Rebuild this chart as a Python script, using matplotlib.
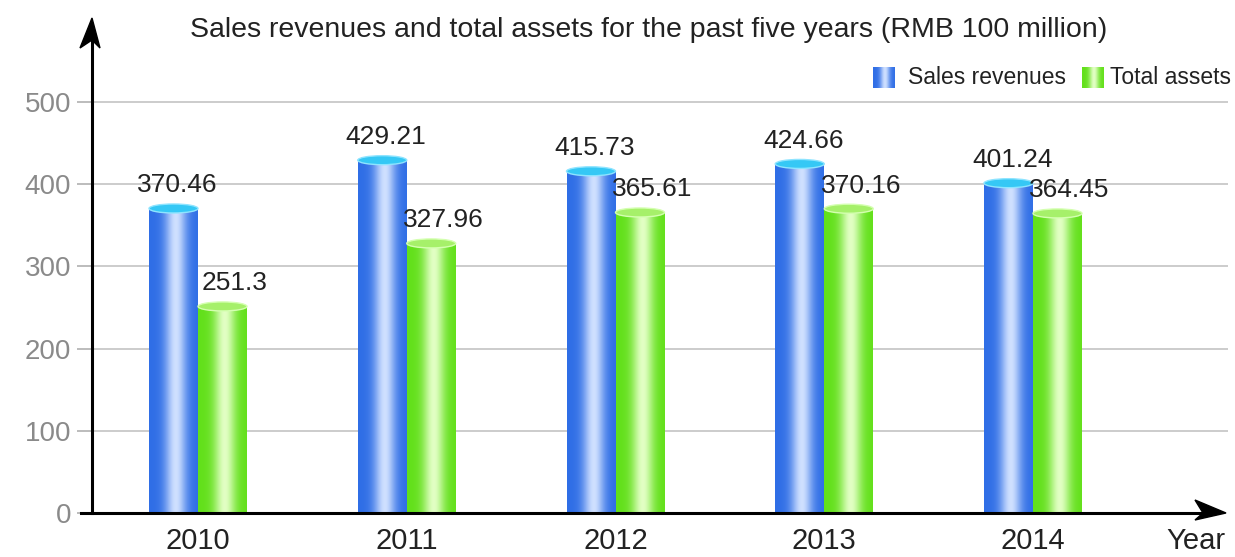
import numpy as np
import matplotlib
matplotlib.use("Agg")
import matplotlib.pyplot as plt
from matplotlib.patches import Rectangle, Ellipse, Polygon
from matplotlib.colors import to_rgb

plt.rcParams['font.family'] = ['Liberation Sans', 'DejaVu Sans']

years = ["2010", "2011", "2012", "2013", "2014"]
sales = [370.46, 429.21, 415.73, 424.66, 401.24]
assets = [251.3, 327.96, 365.61, 370.16, 364.45]
series_names = ["Sales revenues", "Total assets"]

W, H = 1235, 557
fig = plt.figure(figsize=(W / 100, H / 100), dpi=100)
# axes box in pixels: x 92..1228, y 18..513 (data 0 at 513)
ax = fig.add_axes([92 / W, (H - 513) / H, (1228 - 92) / W, (513 - 18) / H])
ymax = (513 - 18) / 0.822
ax.set_ylim(0, ymax)
step = 208.75
ax.set_xlim(-(198 - 92) / step, 4 + (1228 - 1033) / step)
for s in ax.spines.values():
    s.set_visible(False)

ax.set_yticks([0, 100, 200, 300, 400, 500])
ax.tick_params(axis='y', direction='out', length=11, width=1.2, color='#b0b0b0',
               labelcolor='#8a8a8a', labelsize=20, pad=4)
ax.set_xticks([])
for v in [100, 200, 300, 400, 500]:
    ax.axhline(v, color='#c8c8c8', lw=1.3, zorder=0)


def cylinder_colors(edge, light, n=64):
    t = np.linspace(0, 1, n)
    w = np.exp(-((t - 0.55) / 0.22) ** 2)
    e = np.array(to_rgb(edge))
    li = np.array(to_rgb(light))
    rgb = e[None, :] * (1 - w[:, None]) + li[None, :] * w[:, None]
    return rgb[None, :, :]


def draw_bar(x0, width, height, edge, light, cap, cap_edge):
    img = cylinder_colors(edge, light)
    im = ax.imshow(img, extent=(x0, x0 + width, 0, height), aspect='auto',
                   interpolation='bicubic', zorder=2)
    clip = Rectangle((x0, 0), width, height, transform=ax.transData)
    im.set_clip_path(clip)
    e_h = 9 * ymax / (513 - 18)
    ax.add_patch(Ellipse((x0 + width / 2, height), width, e_h, facecolor=cap,
                         edgecolor=cap_edge, lw=1.0, zorder=3))


bw = 49 / step
x = np.arange(len(years))
for i in x:
    draw_bar(i - bw, bw, sales[i], '#2f6ee6', '#cfe0ff', '#35c8f5', '#8ee4ff')
    draw_bar(i, bw, assets[i], '#62e01a', '#e2ffc4', '#a6f06a', '#d4ffb0')
    ax.annotate(f"{sales[i]:g}", (i - bw / 2, sales[i]), xytext=(4, 11),
                textcoords='offset pixels', ha='center', va='bottom',
                fontsize=19, color='#222222')
    ax.annotate(f"{assets[i]:g}", (i + bw / 2, assets[i]), xytext=(12, 11),
                textcoords='offset pixels', ha='center', va='bottom',
                fontsize=19, color='#222222')
    ax.annotate(years[i], (i, 0), xytext=(0, -28), textcoords='offset pixels',
                ha='center', va='center', fontsize=21, color='#222222')

# axis lines with filled arrow heads
fig.add_artist(plt.Line2D([92 / W, 92 / W], [(H - 513) / H, (H - 40) / H],
                          color='black', lw=2.2))
fig.add_artist(Polygon([[80 / W, (H - 48) / H], [92 / W, (H - 18) / H],
                        [100 / W, (H - 48) / H], [92 / W, (H - 40) / H]],
                       closed=True, color='black', transform=fig.transFigure))
fig.add_artist(plt.Line2D([81 / W, 1205 / W], [(H - 513) / H, (H - 513) / H],
                          color='black', lw=2.2))
fig.add_artist(Polygon([[1195 / W, (H - 500) / H], [1226 / W, (H - 513) / H],
                        [1195 / W, (H - 520) / H], [1203 / W, (H - 513) / H]],
                       closed=True, color='black', transform=fig.transFigure))

fig.text(1196 / W, (H - 541) / H, "Year", ha='center', va='center',
         fontsize=21, color='#222222')

fig.text(649 / W, (H - 30) / H,
         "Sales revenues and total assets for the past five years (RMB 100 million)",
         ha='center', va='center', fontsize=20.5, color='#222222')

# legend
def legend_patch(px, edge, light):
    lax = fig.add_axes([px / W, (H - 88) / H, 22 / W, 21 / H])
    lax.imshow(cylinder_colors(edge, light), aspect='auto', interpolation='bicubic')
    lax.axis('off')


legend_patch(873, '#2f6ee6', '#cfe0ff')
fig.text(908 / W, (H - 78) / H, series_names[0], ha='left', va='center',
         fontsize=16.5, color='#222222')
legend_patch(1082, '#62e01a', '#e2ffc4')
fig.text(1110 / W, (H - 78) / H, series_names[1], ha='left', va='center',
         fontsize=16.5, color='#222222')

fig.savefig("out.png", dpi=100)
